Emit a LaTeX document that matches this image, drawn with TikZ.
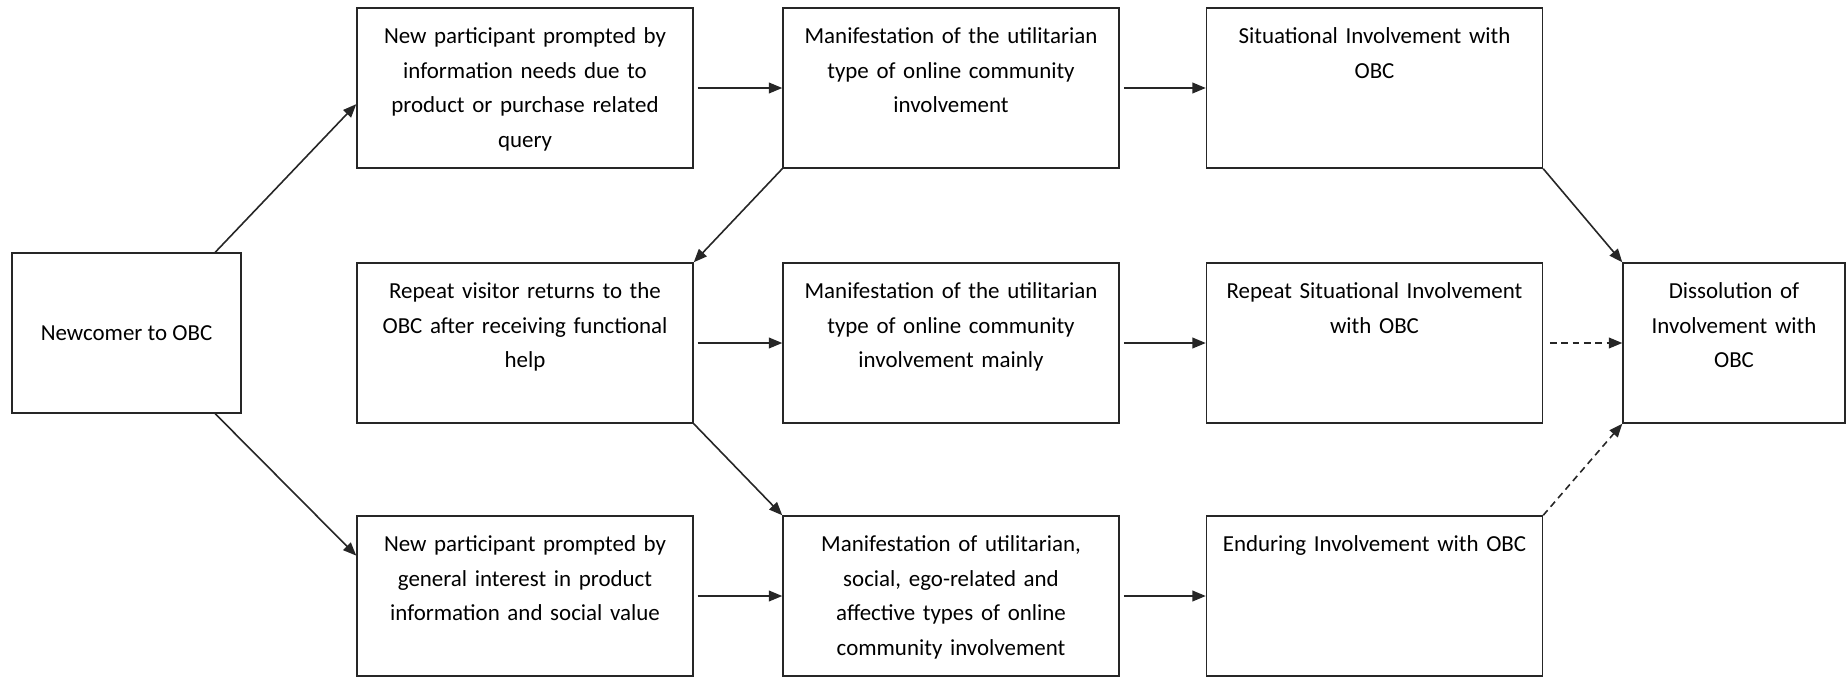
\documentclass[tikz,border=0pt]{standalone}
\usepackage{fontspec}
\setmainfont{Carlito}
\usetikzlibrary{arrows.meta,calc}

\begin{document}
\begin{tikzpicture}[x=0.75pt,y=-0.75pt,
  stage/.style={rectangle,draw=black!85,line width=1.1pt,inner xsep=0pt,inner ysep=0pt,
                text width=252pt,align=center,text height=26.5pt,text depth=93.5pt,
                font=\fontsize{17.2}{26}\selectfont},
  endbox/.style={stage,text width=166.5pt},
  startbox/.style={rectangle,draw=black!85,line width=1.1pt,minimum width=171.75pt,
                   minimum height=120pt,font=\fontsize{17.2}{26}\selectfont},
  flow/.style={-{Triangle[length=10pt,width=8pt]},line width=1.2pt,black!85},
  fade/.style={flow,dash pattern=on 5pt off 3.5pt}
]
\useasboundingbox (0,0) rectangle (1847,678);
\node[startbox] (N)  at (126.5,333) {Newcomer to OBC};
\node[stage]    (P1) at (525,88)    {New participant prompted by\\information needs due to\\product or purchase related\\query};
\node[stage]    (R2) at (525,343)   {Repeat visitor returns to the\\OBC after receiving functional\\help};
\node[stage]    (P3) at (525,596)   {New participant prompted by\\general interest in product\\information and social value};
\node[stage]    (M1) at (951,88)    {Manifestation of the utilitarian\\type of online community\\involvement};
\node[stage]    (M2) at (951,343)   {Manifestation of the utilitarian\\type of online community\\involvement mainly};
\node[stage]    (M3) at (951,596)   {Manifestation of utilitarian,\\social, ego-related and\\affective types of online\\community involvement};
\node[stage]    (S1) at (1374.5,88) {Situational Involvement with\\OBC};
\node[stage]    (S2) at (1374.5,343){Repeat Situational Involvement\\with OBC};
\node[stage]    (E3) at (1374.5,596){Enduring Involvement with OBC};
\node[endbox]   (D)  at (1734,343)  {Dissolution of\\Involvement with\\OBC};
\draw[flow] ($(N.north west)!0.885!(N.north east)$) -- ($(P1.north west)!0.6!(P1.south west)$);
\draw[flow] ($(N.south west)!0.885!(N.south east)$) -- ($(P3.north west)!0.25!(P3.south west)$);
\draw[flow,shorten <=3pt] (P1.east) -- (M1.west);
\draw[flow,shorten <=3pt] (M1.east) -- (S1.west);
\draw[flow,shorten <=3pt] (R2.east) -- (M2.west);
\draw[flow,shorten <=3pt] (M2.east) -- (S2.west);
\draw[flow,shorten <=3pt] (P3.east) -- (M3.west);
\draw[flow,shorten <=3pt] (M3.east) -- (E3.west);
\draw[flow] (M1.south west) -- (R2.north east);
\draw[flow] (R2.south east) -- (M3.north west);
\draw[flow] (S1.south east) -- (D.north west);
\draw[fade,shorten <=5pt] (S2.east) -- (D.west);
\draw[fade] (E3.north east) -- (D.south west);
\end{tikzpicture}
\end{document}
